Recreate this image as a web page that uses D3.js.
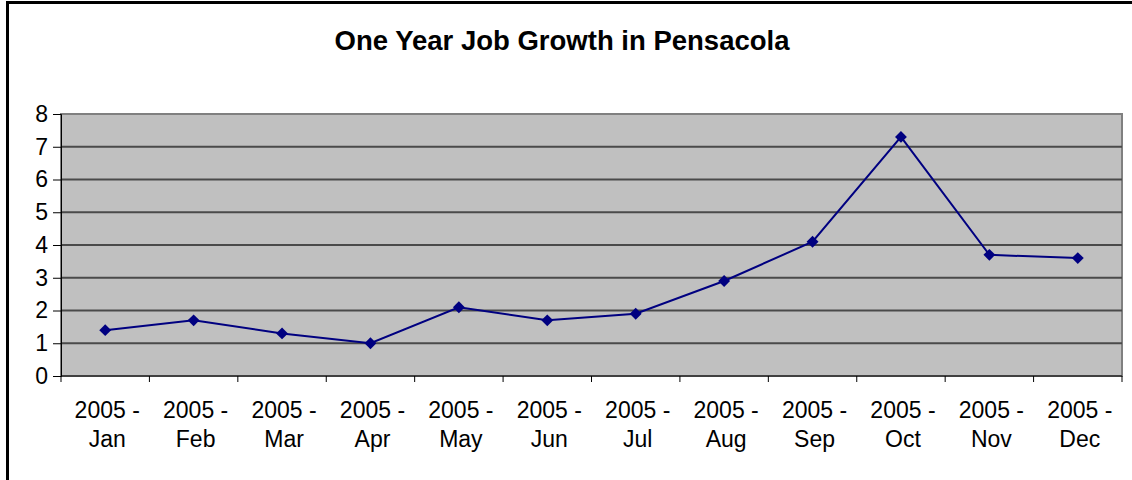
<html>
    <head>
        <script src="https://cdn.jsdelivr.net/npm/d3@7"></script>
        <style>
            body { margin: 0; background: #fff; }
            text { font-family: "Liberation Sans", Arial, sans-serif; }
        </style>
    </head>
    <body>
        <div id="chart"></div>

        <script type="text/javascript">

            // data
            const months = ["Jan", "Feb", "Mar", "Apr", "May", "Jun", "Jul", "Aug", "Sep", "Oct", "Nov", "Dec"]
            const year = "2005"
            const growth = [1.4, 1.7, 1.3, 1.0, 2.1, 1.7, 1.9, 2.9, 4.1, 7.3, 3.7, 3.6]
            const yTicks = [0, 1, 2, 3, 4, 5, 6, 7, 8]

            const width = 1132, height = 480
            const plot = { left: 61, right: 1122, top: 114, bottom: 376 }

            const svg = d3.select("#chart")
                          .append("svg")
                          .attr("width", width)
                          .attr("height", height)

            // outer chart frame (runs off the right/bottom edge)
            svg.append("rect")
                    .attr("x", 7.5)
                    .attr("y", 2.5)
                    .attr("width", width + 10)
                    .attr("height", height + 10)
                    .attr("fill", "#fff")
                    .attr("stroke", "#000")
                    .attr("stroke-width", 3)

            svg.append("text")
                    .attr("x", 562)
                    .attr("y", 50)
                    .attr("text-anchor", "middle")
                    .style("font-size", "27.5px")
                    .style("font-weight", "bold")
                    .text("One Year Job Growth in Pensacola")

            const x = d3.scaleBand().domain(months).range([plot.left, plot.right])
            const y = d3.scaleLinear().domain([0, 8]).range([plot.bottom, plot.top])

            // plot area
            svg.append("rect")
                    .attr("x", plot.left)
                    .attr("y", plot.top)
                    .attr("width", plot.right - plot.left)
                    .attr("height", plot.bottom - plot.top)
                    .attr("fill", "#c0c0c0")
                    .attr("stroke", "#808080")
                    .attr("stroke-width", 2)

            // gridlines
            svg.append("g")
                    .selectAll("line")
                    .data(yTicks.filter(d => d > 0 && d < 8))
                    .enter()
                    .append("line")
                    .attr("x1", plot.left)
                    .attr("x2", plot.right)
                    .attr("y1", d => y(d))
                    .attr("y2", d => y(d))
                    .attr("stroke", "#4a4a4a")
                    .attr("stroke-width", 2)

            // y axis
            const yAxis = svg.append("g")
                    .attr("transform", `translate(${plot.left}, 0)`)
                    .call(d3.axisLeft(y).tickValues(yTicks).tickSize(8).tickPadding(5))
            yAxis.select(".domain").attr("stroke", "#000").attr("stroke-width", 1)
            yAxis.selectAll(".tick line").attr("stroke", "#000")
            yAxis.selectAll("text").style("font-size", "23px").attr("fill", "#000")
                    .style("font-family", "'Liberation Sans', Arial, sans-serif")

            // x axis: ticks at category boundaries
            const xAxis = svg.append("g")
                    .attr("transform", `translate(0, ${plot.bottom})`)
            xAxis.append("line")
                    .attr("x1", plot.left).attr("x2", plot.right)
                    .attr("stroke", "#000")
            xAxis.selectAll("line.tick")
                    .data(d3.range(months.length + 1))
                    .enter()
                    .append("line")
                    .attr("class", "tick")
                    .attr("x1", i => plot.left + i * x.step())
                    .attr("x2", i => plot.left + i * x.step())
                    .attr("y1", 0)
                    .attr("y2", 6)
                    .attr("stroke", "#000")

            const labels = xAxis.selectAll("text")
                    .data(months)
                    .enter()
                    .append("text")
                    .attr("text-anchor", "middle")
                    .style("font-size", "23px")
                    .attr("transform", m => `translate(${x(m) + x.bandwidth() / 2 + 2}, 0)`)
            labels.append("tspan").attr("x", 0).attr("y", 42).text(`${year} -`)
            labels.append("tspan").attr("x", 0).attr("y", 71).text(m => m)

            // series
            const pts = months.map((m, i) => ({ m: m, v: growth[i] }))
            const line = d3.line()
                    .x(d => x(d.m) + x.bandwidth() / 2)
                    .y(d => y(d.v))

            svg.append("path")
                    .datum(pts)
                    .attr("d", line)
                    .attr("fill", "none")
                    .attr("stroke", "#000080")
                    .attr("stroke-width", 2)

            svg.selectAll("path.marker")
                    .data(pts)
                    .enter()
                    .append("path")
                    .attr("class", "marker")
                    .attr("d", d3.symbol(d3.symbolDiamond2, 90))
                    .attr("transform", d => `translate(${x(d.m) + x.bandwidth() / 2}, ${y(d.v)})`)
                    .attr("fill", "#000080")

        </script>
    </body>
</html>
